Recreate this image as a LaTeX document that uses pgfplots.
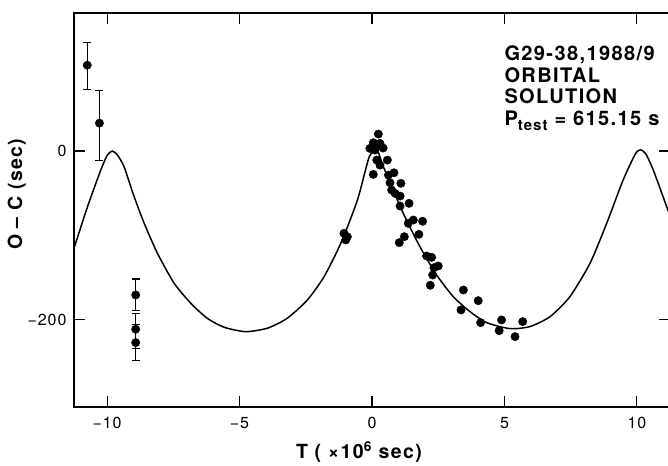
\documentclass[border=0pt]{standalone}
\usepackage{pgfplots}
\pgfplotsset{compat=1.18}
\usepackage{pgfplotstable}
\usepackage{fontspec}
\setmainfont{TeX Gyre Heros}
\newfontfamily\wide[LetterSpace=7]{TeX Gyre Heros}
\newfontfamily\tickf[LetterSpace=6]{TeX Gyre Heros}

\pgfplotstableread{
x y ep em
-10.75 102 27 29
-10.29 33.2 39 44
-8.92 -170.9 19 19
-8.92 -211.6 19 23
-8.92 -227.5 21 21
}\errdata

\pgfplotstableread{
x y
-1.06 -97.7
-0.93 -101.7
-0.99 -105.6
-0.08 3.2
0.05 9.9
0.30 9.1
0.42 3.6
0.24 20.2
0.15 4.7
0.11 1.2
0.05 -27.7
0.18 -10.7
0.58 -10.7
0.30 -16.6
0.62 -28.5
0.83 -25.8
0.68 -37.6
1.09 -38.3
0.74 -46.3
0.87 -50.2
1.06 -53.4
1.06 -65.3
1.40 -62.1
1.56 -81.9
1.91 -83.4
1.37 -85.8
1.77 -98.9
1.22 -101.7
1.03 -108.8
2.06 -124.6
2.25 -126.2
2.50 -136.5
2.34 -138.5
2.29 -147.2
2.20 -159.4
3.45 -165.0
4.01 -177.7
3.36 -188.7
4.10 -203.8
4.89 -200.6
5.69 -202.6
4.80 -213.3
5.40 -220.4
}\dotdata

\pgfplotstableread{
x y
-11.30 -121
-11.25 -115.5
-10.74 -66.1
-10.24 -22.6
-9.99 -4.7
-9.80 0
-9.61 -4.7
-9.36 -18.6
-8.98 -54.2
-8.60 -85.8
-8.10 -121.4
-7.47 -157
-6.84 -180.8
-6.22 -198.6
-5.58 -209.3
-4.77 -214.5
-3.95 -210.4
-3.20 -198.6
-2.44 -176.9
-1.81 -149.2
-1.18 -109.6
-0.55 -58.2
-0.10 -6.5
0.20 0.5
0.43 -18.6
1.18 -73.9
1.81 -113.6
2.44 -147.2
3.07 -173
3.70 -190.7
4.33 -203.8
5.21 -210.9
5.96 -208.5
6.72 -196.7
7.47 -173
8.23 -133.3
8.86 -85.8
9.48 -34.4
9.94 -3.5
10.14 1.5
10.34 -3.5
10.62 -22.6
11.17 -70
11.30 -80
}\curvedata

\begin{document}
\begin{tikzpicture}
\begin{axis}[
  scale only axis, width=596pt, height=394pt,
  xmin=-11.25, xmax=11.25, ymin=-304, ymax=164,
  xtick={-10,-5,0,5,10}, xticklabels={−10,−5,0,5,10},
  ytick={-200,0}, yticklabels={−200,0},
  tick align=inside, major tick length=11pt,
  tick style={line width=1.2pt, black},
  axis line style={line width=1.6pt},
  xticklabel style={font=\tickf\fontsize{16}{16}\selectfont, yshift=-7pt},
  yticklabel style={font=\tickf\fontsize{16}{16}\selectfont, xshift=-4pt},
  xlabel={T ( ×10\textsuperscript{6} sec)},
  xlabel style={font=\wide\bfseries\fontsize{19.5}{19.5}\selectfont, at={(axis description cs:0.478,-0.114)}, anchor=center},
  ylabel={O – C (sec)},
  ylabel style={font=\wide\bfseries\fontsize{19.5}{19.5}\selectfont, at={(axis description cs:-0.096,0.54)}, anchor=center},
  clip=true,
]
\addplot[black, line width=1.5pt, smooth, tension=0.4] table[x=x,y=y]{\curvedata};
\addplot[only marks, mark=*, black, mark size=4.2pt] table[x=x,y=y]{\dotdata};
\addplot[only marks, mark=*, black, mark size=4.2pt,
  error bars/.cd, y dir=both, y explicit,
  error bar style={line width=1.1pt, black},
  error mark options={rotate=90, mark size=4pt, line width=1.1pt, black}]
  table[x=x, y=y, y error plus=ep, y error minus=em]{\errdata};
\node[anchor=north west, align=left, inner sep=0pt, font=\wide\bfseries\fontsize{20}{21.8}\selectfont]
  at (axis description cs:0.722,0.918)
  {G29-38,1988/9\\ORBITAL\\SOLUTION\\P\raisebox{-5pt}{\fontsize{15}{15}\selectfont test} = 615.15 s};
\end{axis}
\pgfresetboundingbox
\path[use as bounding box] ([xshift=-74pt,yshift=-58pt]current axis.south west) rectangle ([xshift=-2pt,yshift=13pt]current axis.north east);
\end{tikzpicture}
\end{document}
